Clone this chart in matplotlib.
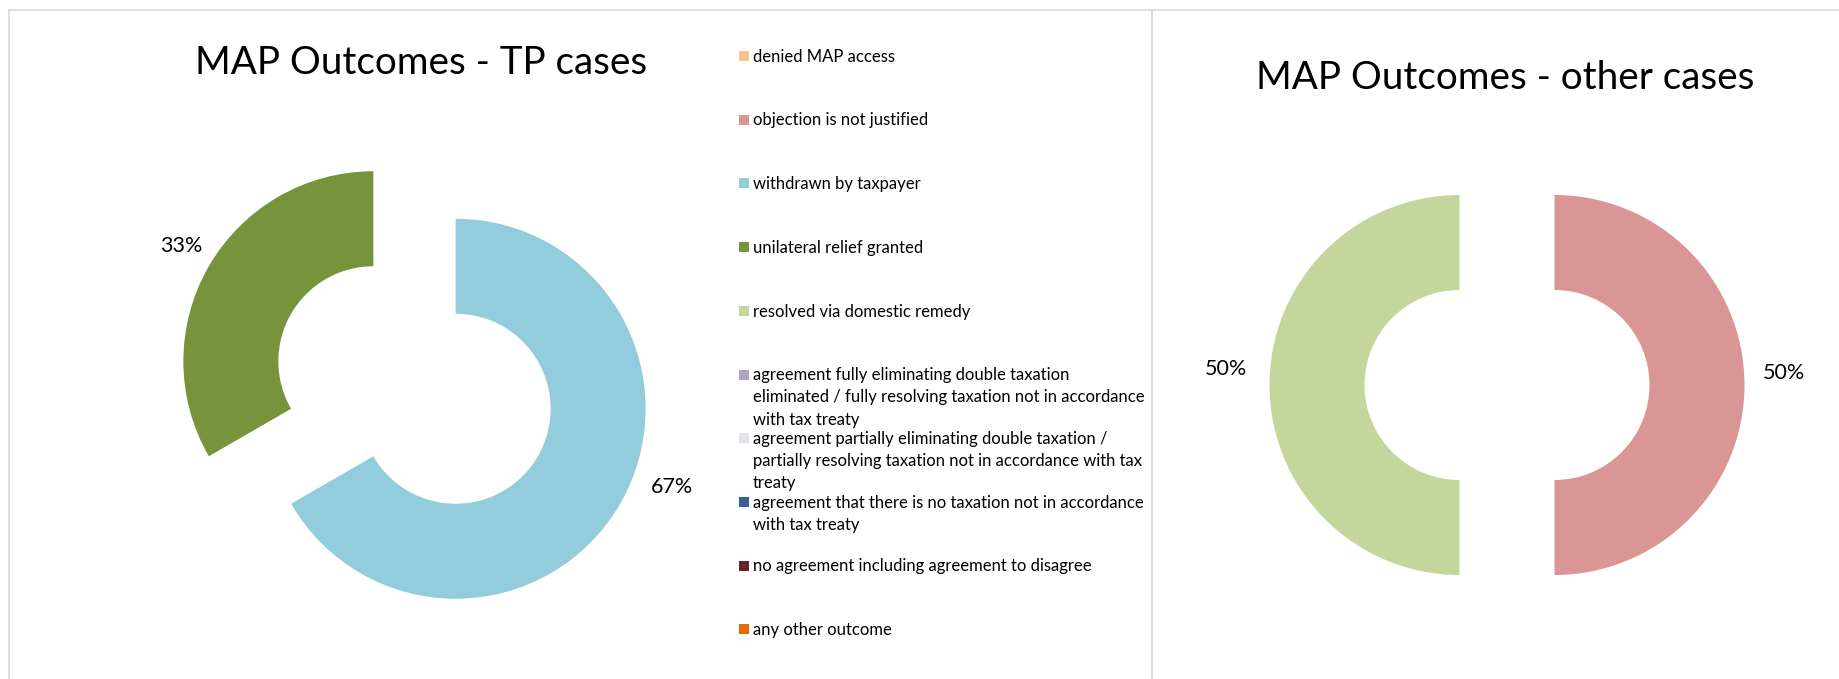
import matplotlib
matplotlib.use("Agg")
import numpy as np
import matplotlib.pyplot as plt
from matplotlib.patches import Rectangle
from matplotlib.lines import Line2D

plt.rcParams['font.family'] = ['Lato', 'DejaVu Sans']

# legend categories (wrapped like the original)
categories = [
    "denied MAP access",
    "objection is not justified",
    "withdrawn by taxpayer",
    "unilateral relief granted",
    "resolved via domestic remedy",
    "agreement fully eliminating double taxation\neliminated / fully resolving taxation not in accordance\nwith tax treaty",
    "agreement partially eliminating double taxation /\npartially resolving taxation not in accordance with tax\ntreaty",
    "agreement that there is no taxation not in accordance\nwith tax treaty",
    "no agreement including agreement to disagree",
    "any other outcome",
]
colors = ["#FAC090", "#D99694", "#93CDDD", "#77933C", "#C3D69B",
          "#B3A2C7", "#E6E0EC", "#376092", "#632523", "#E46C0A"]

tp_cases = [0, 0, 2, 1, 0, 0, 0, 0, 0, 0]
other_cases = [0, 1, 0, 0, 1, 0, 0, 0, 0, 0]

W, H = 1840, 679
fig = plt.figure(figsize=(W / 100, H / 100), dpi=100)


def donut(values, cx, cy, title, tx, ty, shifts, dists):
    vals = [v for v in values if v > 0]
    cols = [c for v, c in zip(values, colors) if v > 0]
    hw, hh = 300, 280
    s = 190  # pixels per unit radius
    ax = fig.add_axes([(cx - hw) / W, (H - cy - hh) / H, 2 * hw / W, 2 * hh / H])
    wedges, texts, autotexts = ax.pie(
        vals, colors=cols, startangle=90, counterclock=False,
        explode=[0.25] * len(vals), radius=1.0,
        wedgeprops=dict(width=0.5, linewidth=0),
        autopct="%1.0f%%", pctdistance=1.21,
        textprops=dict(fontsize=15.5, color="black"))
    # excel "best fit" nudges the labels a little around the ring
    for w, t, d, k in zip(wedges, autotexts, shifts, dists):
        ang = np.deg2rad((w.theta1 + w.theta2) / 2 + d)
        c0 = np.array(w.center)
        t.set_position(c0 + k * w.r * np.array([np.cos(ang), np.sin(ang)]))
    ax.set_aspect("auto")
    ax.set_xlim(-hw / s, hw / s)
    ax.set_ylim(-hh / s, hh / s)
    ax.patch.set_visible(False)
    fig.text(tx / W, 1 - ty / H, title, fontsize=27.8, ha="center", va="baseline")
    return ax


donut(tp_cases, 414.5, 385, "MAP Outcomes - TP cases", 421, 74,
      [10, -1], [1.21, 1.18])
donut(other_cases, 1507, 385, "MAP Outcomes - other cases", 1505, 89,
      [3, -4], [1.21, 1.23])

# manual legend
y0, step = 56, 63.7
for i, (lab, col) in enumerate(zip(categories, colors)):
    yc = y0 + i * step
    fig.patches.append(Rectangle((739 / W, 1 - (yc + 5) / H), 10 / W, 10 / H,
                                 transform=fig.transFigure, facecolor=col,
                                 edgecolor="none"))
    fig.text(753 / W, 1 - (yc - 7.3) / H, lab, fontsize=12, ha="left",
             va="top", linespacing=1.48, color="black")

# panel borders
border = "#D9D9D9"
fig.add_artist(Line2D([9 / W, 1], [1 - 9.5 / H, 1 - 9.5 / H], color=border, lw=1.2))
fig.add_artist(Line2D([9 / W, 9 / W], [0, 1 - 9.5 / H], color=border, lw=1.2))
fig.add_artist(Line2D([1152 / W, 1152 / W], [0, 1 - 9.5 / H], color=border, lw=1.5))

fig.savefig("out.png", dpi=100, facecolor="white")
